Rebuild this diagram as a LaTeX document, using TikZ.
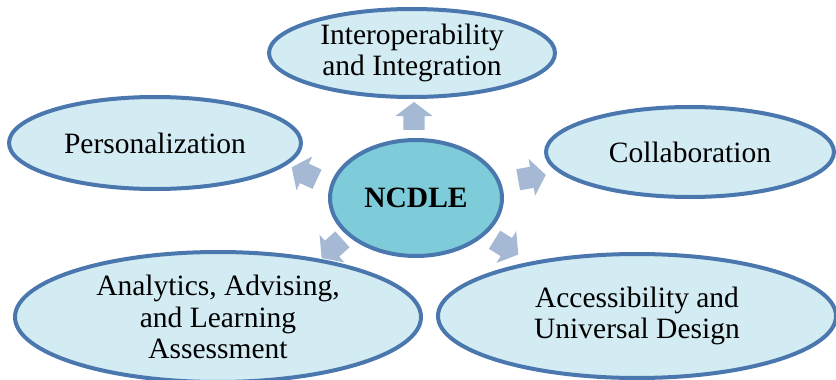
\documentclass[tikz,border=0pt]{standalone}
\usepackage{fontspec}
\setmainfont{Liberation Serif}
\usetikzlibrary{shapes.geometric,shapes.arrows}
\definecolor{ebord}{HTML}{4A78AE}
\definecolor{efill}{HTML}{D3EBF2}
\definecolor{cfill}{HTML}{7ECBD9}
\definecolor{afill}{HTML}{A6B9D4}
\begin{document}
\begin{tikzpicture}[x=1pt,y=-1pt,
  oval/.style={ellipse,draw=ebord,fill=efill,line width=4pt,inner sep=0pt,align=center,
    font=\fontsize{29.5}{31.5}\selectfont},
  blockarrow/.style={single arrow,fill=afill,draw=none,minimum height=28pt,
    single arrow head extend=8pt,single arrow tip angle=106,inner xsep=0pt,inner ysep=10.5pt}]
\useasboundingbox (0,0) rectangle (836,380);
\node[oval,minimum width=286pt,minimum height=88pt] (inter) at (412,53) {Interoperability\\and Integration};
\node[oval,minimum width=292pt,minimum height=92pt] (pers) at (155,143) {Personalization};
\node[oval,minimum width=288pt,minimum height=90pt] (coll) at (690,152) {Collaboration};
\node[oval,minimum width=406pt,minimum height=130pt] (anal) at (218,317) {Analytics, Advising,\\and Learning\\Assessment};
\node[oval,minimum width=398pt,minimum height=124pt] (acc) at (637,316) {Accessibility and\\Universal Design};
\node[oval,fill=cfill,minimum width=172pt,minimum height=116pt,font=\bfseries\fontsize{29.5}{31.5}\selectfont] (ncdle) at (416,198) {NCDLE};
\node[blockarrow,rotate=90] (a1) at (414,120) {};
\node[blockarrow,rotate=155] (a2) at (308,175) {};
\node[blockarrow,rotate=10] (a3) at (528,178) {};
\node[blockarrow,rotate=222] (a4) at (335,246) {};
\node[blockarrow,rotate=-32] (a5) at (503,245) {};
\end{tikzpicture}
\end{document}
